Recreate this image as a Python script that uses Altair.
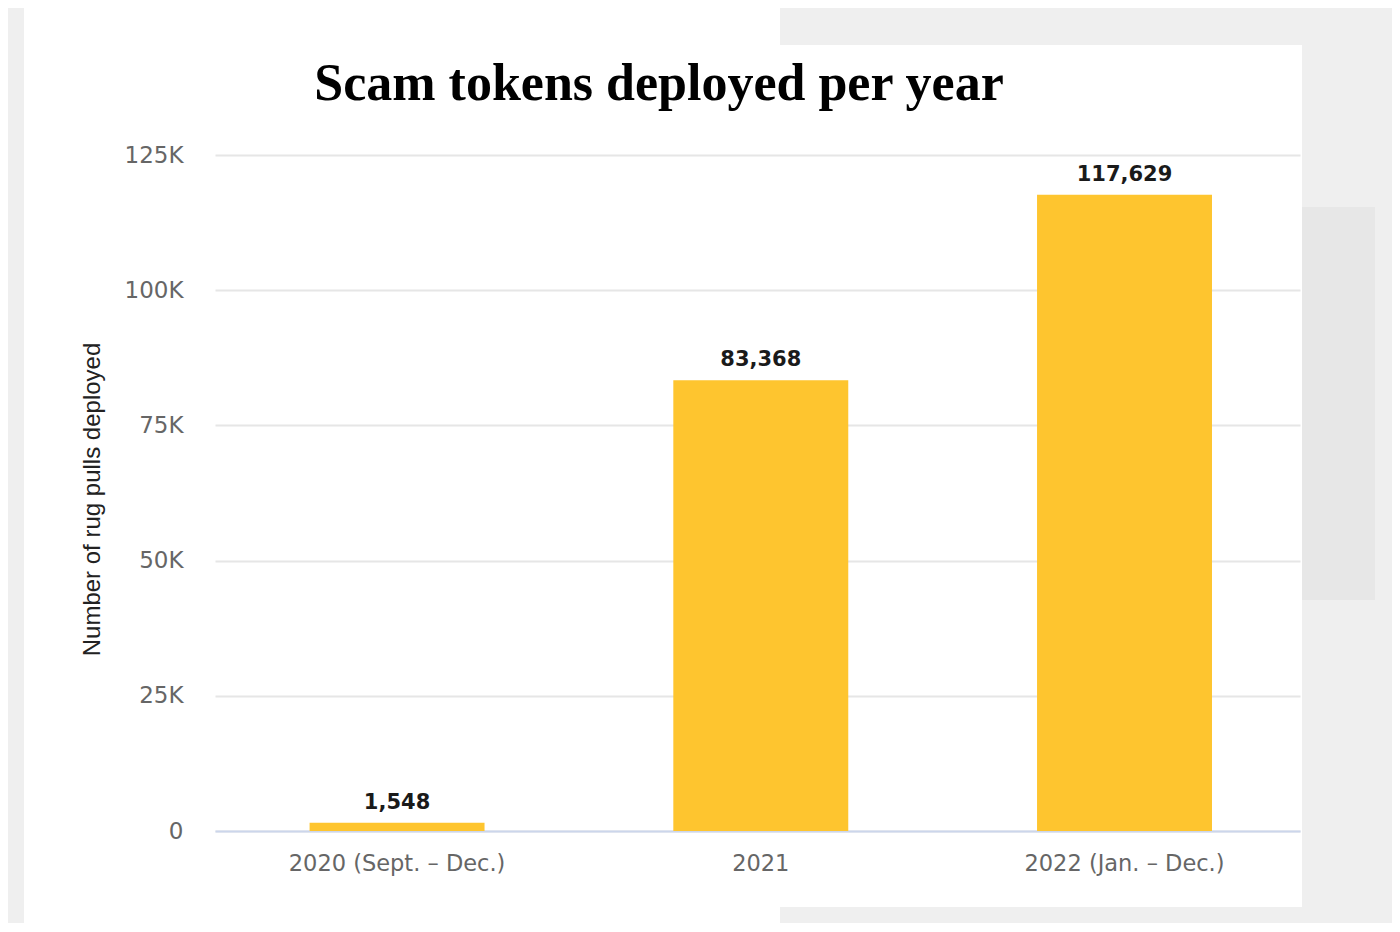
import altair as alt
import pandas as pd

categories = ["2020 (Sept. – Dec.)", "2021", "2022 (Jan. – Dec.)"]
values = [1548, 83368, 117629]
y_ticks = [0, 25000, 50000, 75000, 100000, 125000]
title_text = "Scam tokens deployed per year"

df = pd.DataFrame({"period": categories, "count": values})
df["label"] = [f"{v:,}" for v in values]

W, H = 1085, 676
PAD_L, PAD_T = 207, 147

# decorative gray page regions around the white card (pixels, relative to plot area)
bg_df = pd.DataFrame({"k": [0]})
def grey(x, x2, y, y2, c="#efefef"):
    return alt.Chart(bg_df).mark_rect(color=c).encode(
        x=alt.value(x), x2=alt.value(x2), y=alt.value(y), y2=alt.value(y2)
    )

deco = [
    grey(-207, -191, -147, 769),
    grey(565, 1177, -147, -110),
    grey(1087, 1177, -147, 769),
    grey(565, 1177, 752, 769),
    grey(1087, 1160, 52, 445, "#e7e7e7"),
]

title = alt.Chart(pd.DataFrame({"t": [title_text]})).mark_text(
    font="Liberation Serif", fontSize=52, fontWeight="bold", color="#000000",
    align="center", baseline="alphabetic"
).encode(x=alt.value(444), y=alt.value(-55), text="t:N")

xenc = alt.X(
    "period:N",
    sort=categories,
    scale=alt.Scale(paddingInner=0.519, paddingOuter=0.251, align=0.518),
    axis=alt.Axis(
        title=None,
        labelAngle=0,
        labelFont="DejaVu Sans",
        labelFontSize=22.5,
        labelColor="#666666",
        labelPadding=21,
        labelLimit=0,
        ticks=False,
        domain=True,
        domainColor="#ccd6eb",
        domainWidth=2,
        grid=False,
    ),
)
yenc = alt.Y(
    "count:Q",
    scale=alt.Scale(domain=[0, 125000], nice=False),
    axis=alt.Axis(
        values=y_ticks,
        title="Number of rug pulls deployed",
        titleFont="Liberation Sans",
        titleFontSize=24,
        titleFontWeight="normal",
        titleColor="#222222",
        titleAngle=-90,
        titleX=-123,
        titleY=344,
        titleAlign="center",
        titleBaseline="middle",
        labelFont="DejaVu Sans",
        labelFontSize=23,
        labelColor="#666666",
        labelPadding=32,
        labelExpr="datum.value == 0 ? '0' : (datum.value / 1000) + 'K'",
        ticks=False,
        domain=False,
        grid=True,
        gridColor="#e6e6e6",
        gridWidth=2,
    ),
)

bars = alt.Chart(df).mark_bar(color="#fec52f").encode(x=xenc, y=yenc)
labels = alt.Chart(df).mark_text(
    baseline="bottom", dy=-10, font="DejaVu Sans", fontSize=21,
    fontWeight="bold", color="#1a1a1a"
).encode(x=alt.X("period:N", sort=categories), y="count:Q", text="label:N")

chart = alt.layer(bars, labels, *deco, title).properties(
    width=W,
    height=H,
    background="#ffffff",
    autosize=alt.AutoSizeParams(type="none"),
    padding={"left": PAD_L, "top": PAD_T, "right": 92, "bottom": 92},
).configure_view(stroke=None)

chart.save("out.html", embed_options={"renderer": "svg", "actions": False})
